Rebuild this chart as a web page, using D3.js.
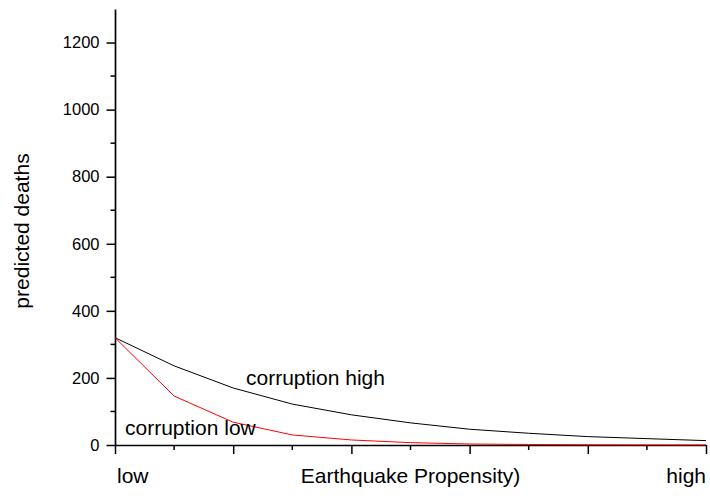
<!DOCTYPE html>
<html><head><meta charset="utf-8">
<script src="https://cdn.jsdelivr.net/npm/d3@7"></script>
<style>body{margin:0;background:#fff}svg{display:block}text{font-family:"Liberation Sans",Arial,sans-serif}</style>
</head><body><svg id="c" width="710" height="498"></svg>
<script>
const xValues = [0,1,2,3,4,5,6,7,8,9,10];
const corruptionHigh = [320,236,170,122,90,66,47,35,25,19,13];
const corruptionLow = [320,146,68,30,15,7,3,1.5,0.7,0.3,0.1];
const yTicks = [0,200,400,600,800,1000,1200];
const xLabels = ["low","high"];
const seriesLabels = ["corruption high","corruption low"];
const xTitle = "Earthquake Propensity)";
const yTitle = "predicted deaths";

const svg = d3.select("#c");
const x = d3.scaleLinear().domain([0,10]).range([115,706]);
const y = d3.scaleLinear().domain([0,1300]).range([445,9]);

// y axis
const yMinor = d3.range(100,1300,200);
const ya = svg.append("g").attr("transform","translate(115,0)");
ya.call(d3.axisLeft(y).tickValues(yTicks).tickFormat(d3.format("d")).tickSize(8.5).tickPadding(7).tickSizeOuter(0));
ya.selectAll(".tick text").attr("font-size",16.5).attr("fill","#000").attr("font-family","Liberation Sans, Arial, sans-serif");
ya.selectAll(".minor").data(yMinor).enter().append("line")
  .attr("x1",-4.5).attr("x2",0).attr("y1",d=>y(d)).attr("y2",d=>y(d)).attr("stroke","#000").attr("stroke-width",1.5);
ya.select(".domain").attr("stroke-width",1.7);
ya.selectAll(".tick line").attr("stroke-width",1.5);

// x axis
const xa = svg.append("g").attr("transform","translate(0,445)");
xa.call(d3.axisBottom(x).tickValues([0,2,4,6,8,10]).tickSize(9).tickFormat("").tickSizeOuter(0));
xa.selectAll(".minor").data([1,3,5,7,9]).enter().append("line")
  .attr("x1",d=>x(d)).attr("x2",d=>x(d)).attr("y1",0).attr("y2",5).attr("stroke","#000").attr("stroke-width",1.5);
xa.select(".domain").attr("stroke-width",1.7);
xa.selectAll(".tick line").attr("stroke-width",1.5);

const line = d3.line().x((d,i)=>x(xValues[i])).y(d=>y(d));
svg.append("path").datum(corruptionHigh).attr("d",line).attr("fill","none").attr("stroke","#000").attr("stroke-width",1);
svg.append("path").datum(corruptionLow).attr("d",line).attr("fill","none").attr("stroke","#ff0000").attr("stroke-width",1);

svg.append("text").attr("x",246).attr("y",385).attr("font-size",21).text(seriesLabels[0]);
svg.append("text").attr("x",125).attr("y",435).attr("font-size",21).text(seriesLabels[1]);

svg.append("text").attr("x",x(0)+2).attr("y",483).attr("font-size",21).text(xLabels[0]);
svg.append("text").attr("x",x(10)).attr("y",483).attr("font-size",21).attr("text-anchor","end").text(xLabels[1]);
svg.append("text").attr("x",(x(0)+x(10))/2).attr("y",483).attr("font-size",21).attr("text-anchor","middle").text(xTitle);
svg.append("text").attr("transform","translate(29,231) rotate(-90)").attr("font-size",21).attr("text-anchor","middle").text(yTitle);
</script></body></html>
